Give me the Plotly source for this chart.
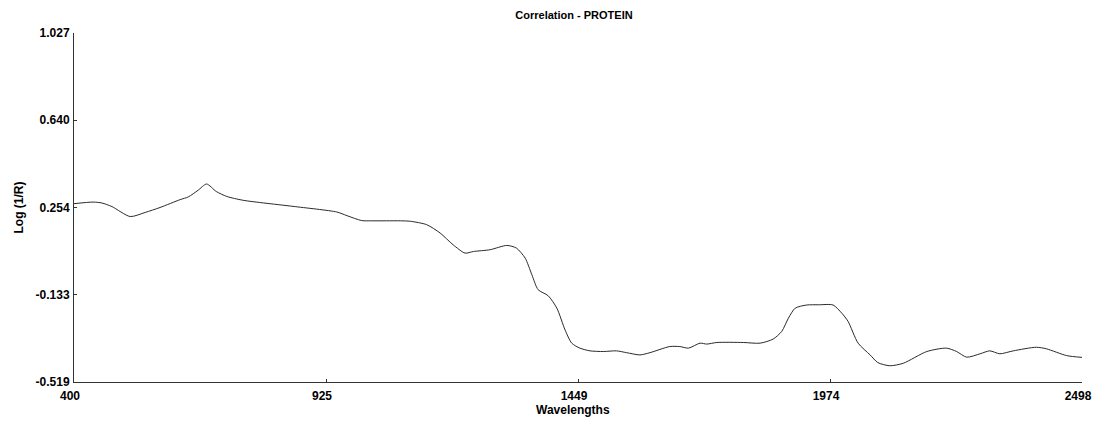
import plotly.graph_objects as go

# Correlation spectrum for protein, wavelength (nm) vs log(1/R) correlation
wavelengths = [400, 440, 458, 479, 517, 548, 579, 621, 638, 658, 676, 696, 718, 752,
               856, 947, 968, 999, 1020, 1050, 1080, 1100, 1134, 1162, 1189, 1214,
               1231, 1266, 1301, 1321, 1339, 1353, 1366, 1387, 1405, 1422, 1436, 1453,
               1474, 1502, 1529, 1550, 1578, 1599, 1640, 1661, 1679, 1703, 1717, 1738,
               1793, 1828, 1855, 1873, 1887, 1901, 1925, 1950, 1980, 1998, 2011, 2032,
               2057, 2073, 2098, 2126, 2175, 2216, 2237, 2258, 2286, 2306, 2327, 2355,
               2403, 2424, 2466, 2498]
correlation = [0.271, 0.278, 0.274, 0.258, 0.214, 0.232, 0.254, 0.289, 0.301, 0.330,
               0.358, 0.325, 0.303, 0.286, 0.259, 0.234, 0.218, 0.196, 0.195, 0.195,
               0.195, 0.193, 0.178, 0.141, 0.089, 0.052, 0.059, 0.067, 0.086, 0.074,
               0.030, -0.044, -0.110, -0.137, -0.192, -0.288, -0.347, -0.369, -0.381,
               -0.384, -0.381, -0.389, -0.399, -0.389, -0.362, -0.362, -0.369, -0.347,
               -0.351, -0.344, -0.344, -0.347, -0.329, -0.295, -0.236, -0.192, -0.178,
               -0.177, -0.178, -0.214, -0.250, -0.347, -0.399, -0.433, -0.447, -0.436,
               -0.384, -0.369, -0.384, -0.409, -0.394, -0.381, -0.394, -0.381, -0.365,
               -0.372, -0.402, -0.410]

x_ticks = [400, 924.5, 1449, 1973.5, 2498]
x_tick_text = ["400", "925", "1449", "1974", "2498"]
y_ticks = [1.027, 0.6405, 0.254, -0.1325, -0.519]
y_tick_text = ["1.027", "0.640", "0.254", "-0.133", "-0.519"]

font_family = "Liberation Sans, Arial, sans-serif"

fig = go.Figure()
fig.add_trace(go.Scatter(
    x=wavelengths, y=correlation, mode="lines",
    line=dict(color="#2a2a2a", width=1, shape="spline", smoothing=0.7),
    hoverinfo="x+y", showlegend=False,
))

axis_style = dict(showgrid=False, zeroline=False, showline=True, linecolor="#333",
                  linewidth=1, ticks="inside", ticklen=3, tickcolor="#333",
                  tickfont=dict(size=12), automargin=False,
                  ticklabeloverflow="allow")

fig.update_layout(
    width=1095, height=422,
    margin=dict(l=74, r=13, t=33, b=40),
    paper_bgcolor="white", plot_bgcolor="white",
    font=dict(family=font_family, size=12, color="black"),
    title=dict(text="<b>Correlation - PROTEIN</b>", x=574 / 1095, xanchor="center",
               y=1 - 15.5 / 422, yanchor="middle", font=dict(size=11)),
    xaxis=dict(range=[400, 2498], tickvals=x_ticks,
               ticktext=["<b>%s</b>" % t for t in x_tick_text],
               ticklabelstandoff=3, ticklabelshift=-4, **axis_style),
    yaxis=dict(range=[-0.519, 1.027], tickvals=y_ticks,
               ticktext=["<b>%s</b>" % t for t in y_tick_text],
               ticklabelstandoff=1, **axis_style),
    annotations=[
        dict(text="<b>Wavelengths</b>", xref="paper", yref="paper", x=0.5, y=0,
             xshift=-5, yshift=-28, xanchor="center", yanchor="middle",
             showarrow=False, font=dict(size=12)),
        dict(text="<b>Log (1/R)</b>", xref="paper", yref="paper", x=0, y=0.5,
             xshift=-56, xanchor="center", yanchor="middle", textangle=-90,
             showarrow=False, font=dict(size=12)),
    ],
)

fig.write_html("out.html")
